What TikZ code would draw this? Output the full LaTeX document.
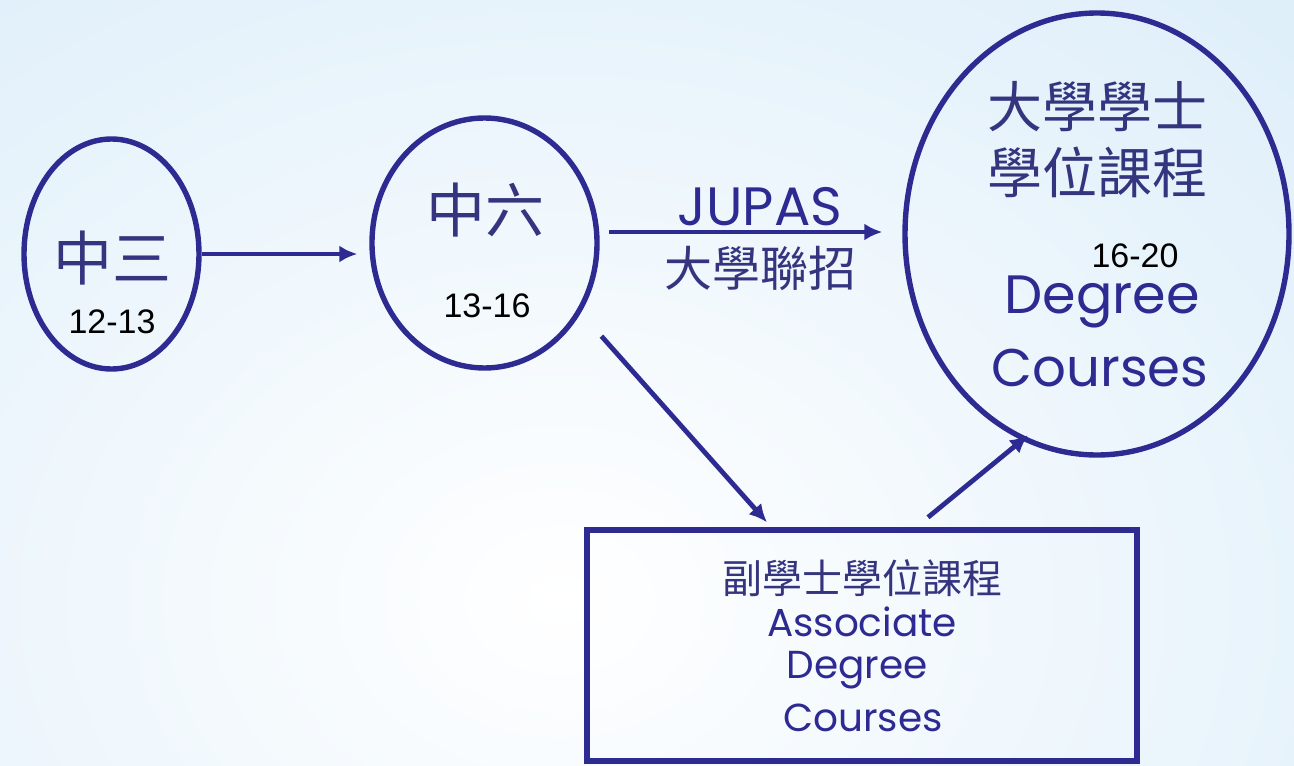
\documentclass[tikz,border=0pt]{standalone}
\usepackage{fontspec}
\setmainfont{Liberation Sans}
\newfontfamily\cjk{Noto Sans CJK TC}
\newfontfamily\disp{Poppins}
\usetikzlibrary{shapes.geometric,arrows.meta}
\definecolor{ln}{HTML}{2D2A92}
\definecolor{cjkc}{HTML}{35357F}
\definecolor{bgb}{HTML}{D3E9F8}
\tikzset{
  circ/.style={ellipse, draw=ln, line width=2.7pt, inner sep=0pt},
  conn/.style={draw=ln, line width=2.4pt, -{Latex[length=9pt,width=8.5pt]}},
  ctxt/.style={font=\cjk, text=cjkc, inner sep=0pt, anchor=center},
  ntxt/.style={text=black, inner sep=0pt, anchor=center, font=\fontsize{17}{17}\selectfont},
  etxt/.style={font=\disp, text=ln, inner sep=0pt, anchor=center}
}
\begin{document}
\begin{tikzpicture}[x=0.5pt, y=-0.5pt]
\useasboundingbox (0,0) rectangle (1294,765);
\fill[bgb] (0,0) rectangle (1294,765);
\begin{scope}
\clip (0,0) rectangle (1294,765);
\shade[inner color=white, outer color=bgb] (560,600) ellipse [x radius=1400, y radius=1100];
\end{scope}
% ellipses
\node[circ, minimum width=87.5pt, minimum height=115pt] (e1) at (111.5,254) {};
\node[circ, minimum width=112.5pt, minimum height=125pt] (e2) at (484.5,243) {};
\node[circ, minimum width=192pt, minimum height=221pt] (e3) at (1097,234) {};
\node[draw=ln, line width=2.7pt, minimum width=275pt, minimum height=115.5pt, inner sep=0pt] (bx) at (862,645.5) {};
% texts
\node[ctxt, font=\cjk\fontsize{29.5}{29.5}\selectfont] (t1) at (112,258) {中三};
\node[ntxt] (n1) at (112,322) {12-13};
\node[ctxt, font=\cjk\fontsize{29.5}{29.5}\selectfont] (t2) at (485,210) {中六};
\node[ntxt] (n2) at (487,306) {13-16};
\node[etxt, font=\disp\fontsize{27}{27}\selectfont] (jp) at (760,207) {JUPAS};
\node[ctxt, font=\cjk\fontsize{24}{24}\selectfont] (jc) at (760,268) {大學聯招};
\node[ctxt, font=\cjk\fontsize{27.5}{27.5}\selectfont] (t3a) at (1097,107) {大學學士};
\node[ctxt, font=\cjk\fontsize{27.5}{27.5}\selectfont] (t3b) at (1097,172) {學位課程};
\node[ntxt] (n3) at (1135,256) {16-20};
\node[etxt, font=\disp\fontsize{27}{27}\selectfont] (d3) at (1102,302) {Degree};
\node[etxt, font=\disp\fontsize{26.5}{26.5}\selectfont] (c3) at (1100,368) {Courses};
\node[ctxt, font=\cjk\fontsize{20}{20}\selectfont] (b1) at (862,578) {副學士學位課程};
\node[etxt, font=\disp\fontsize{19.5}{19.5}\selectfont] (b2) at (862,622) {Associate};
\node[etxt, font=\disp\fontsize{19.5}{19.5}\selectfont] (b3) at (857,670) {Degree};
\node[etxt, font=\disp\fontsize{19.5}{19.5}\selectfont] (b4) at (863,718) {Courses};
% connectors
\coordinate (a2s) at (597,232);
\draw[conn, shorten >=6pt] (e1.east) -- (e1.east -| e2.west);
\draw[conn, shorten <=6pt, shorten >=10pt] (a2s) -- (a2s -| e3.west);
\draw[conn, shorten <=15.5pt] (e2.-36.3) -- ([xshift=-47.5pt, yshift=2.5pt]bx.north);
\draw[conn, shorten >=-4pt] ([xshift=33pt, yshift=5pt]bx.north) -- (e3.-110.6);
\end{tikzpicture}
\end{document}
